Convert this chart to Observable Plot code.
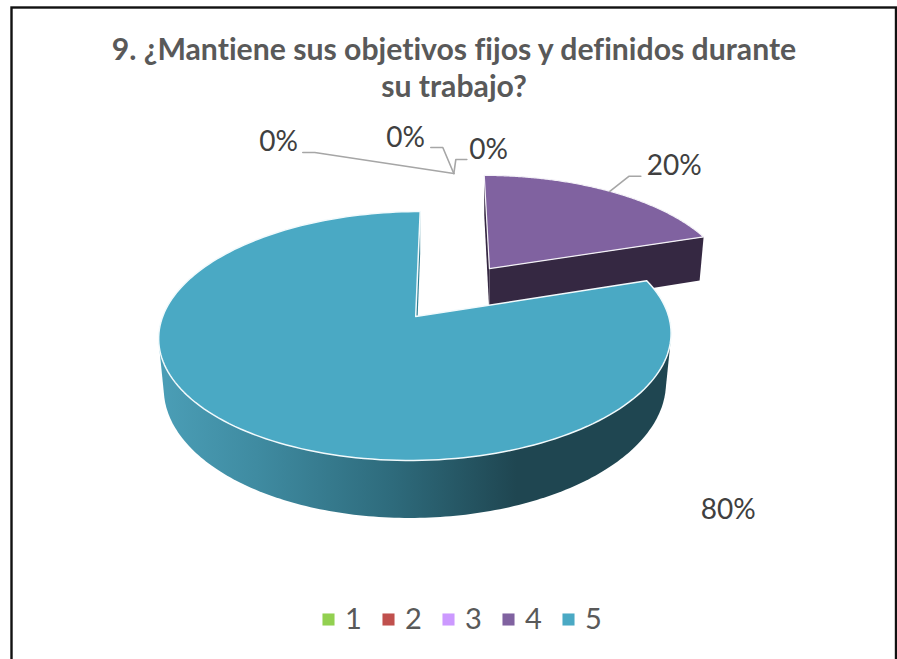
<!DOCTYPE html>
<html lang="es">
<head>
<meta charset="utf-8">
<script src="https://cdn.jsdelivr.net/npm/d3@7"></script>
<script src="https://cdn.jsdelivr.net/npm/@observablehq/plot@0.6"></script>
<style>
html,body{margin:0;padding:0;background:#fff;overflow:hidden}
svg{display:block}
svg text{font-variant-ligatures:none}
</style>
</head>
<body>
<div id="chart"></div>
<script>
// ---- data ----
const categories = ["1", "2", "3", "4", "5"];
const shares = [0, 0, 0, 20, 80];
const titleLines = ["9. ¿Mantiene sus objetivos fijos y definidos durante", "su trabajo?"];

// ---- styles ----
const sliceColors = ["#92D050", "#C0504D", "#CC99FF", "#8062A0", "#4AA9C4"];
const FONT = "Lato, Carlito, 'Open Sans', sans-serif";
const W = 897, H = 659;

// ---- layout of the projected disc (perspective view of a unit circle) ----
const C = {x: 415.2, y: 316, A: 253, B: 121.4, k: 0.1566, depth: 48.5, shrink: 0.98, rot: 0, shear: 5.2};
const explodeShare4 = {u: 0.302, v: 0.421};
const explodeZero = {u: 0.155, v: 0.444};
const rad = d => d * Math.PI / 180;
const project = (u, v, lower = false, shrink = C.shrink) => {
  const w = 1 + C.k * v;
  const s = lower ? shrink : 1;
  return {x: C.x + s * C.A * u / w + C.shear * v / w, y: C.y - C.B * v / w + (lower ? C.depth / w : 0)};
};
const total = d3.sum(shares);
let acc = 0;
const slices = shares.map((s, i) => {
  const a0 = C.rot + acc / total * 360;
  acc += s;
  return {cat: categories[i], value: s, a0, a1: C.rot + acc / total * 360};
});
const rimAt = (deg, off, lower, shrink) => {
  const t = rad(deg);
  return project(Math.sin(t) + off.u, Math.cos(t) + off.v, lower, shrink);
};
const rimPoints = (sl, off, lower) => d3.range(0, 181).map(i => rimAt(sl.a0 + (sl.a1 - sl.a0) * i / 180, off, lower));
const apex = (off, lower, shrink) => project(off.u, off.v, lower, shrink);
const none = {u: 0, v: 0};
const s4 = slices[3], s5 = slices[4];

const topFace = (sl, off) => [apex(off, false), ...rimPoints(sl, off, false)].map(p => ({...p, cat: sl.cat}));
const rim4Top = rimPoints(s4, explodeShare4, false);
const purpleCut = [apex(explodeShare4, false), rim4Top[180], rimAt(s4.a1, explodeShare4, true, 0.986), apex(explodeShare4, true, 1)];
const purpleLeft = [apex(explodeShare4, false), rim4Top[0], rimAt(s4.a0, explodeShare4, true, 1), apex(explodeShare4, true, 1)];
const rim5Top = rimPoints(s5, none, false), rim5Low = rimPoints(s5, none, true);
const tealLeft = [apex(none, false), rim5Top[180], rim5Low[180], apex(none, true)];
// the visible wall is the hull of the front half of both rims, which gives the straight tangent sides
const frontDegrees = d3.range(90, 271, 1);
const tealWall = d3.polygonHull(frontDegrees.flatMap(d => [rimAt(d, none, false), rimAt(d, none, true)]).map(p => [p.x, p.y]))
  .map(([x, y]) => ({x, y}));

// ---- labels, placed relative to the disc centre; leaders start at the rim ----
const zeroAnchor = project(Math.sin(rad(C.rot)) + explodeZero.u, Math.cos(rad(C.rot)) + explodeZero.v);
const at20 = rim4Top[90];
const labels = [
  {i: 0, dx: -137, dy: -174, leader: [zeroAnchor, {x: zeroAnchor.x - 139, y: zeroAnchor.y - 21}, {x: zeroAnchor.x - 151, y: zeroAnchor.y - 21}]},
  {i: 1, dx: -10, dy: -178, leader: [zeroAnchor, {x: zeroAnchor.x - 11, y: zeroAnchor.y - 26}, {x: zeroAnchor.x - 23, y: zeroAnchor.y - 26}]},
  {i: 2, dx: 73, dy: -166, leader: [zeroAnchor, {x: zeroAnchor.x + 2, y: zeroAnchor.y - 14}, {x: zeroAnchor.x + 13, y: zeroAnchor.y - 14}]},
  {i: 3, dx: 258.5, dy: -150, leader: [at20, {x: at20.x + 19, y: at20.y - 15}, {x: at20.x + 31, y: at20.y - 15}]},
  {i: 4, dx: 312.5, dy: 194, leader: []}
].map(l => ({...l, x: C.x + l.dx, y: C.y + l.dy, text: shares[l.i] + "%"}));
const leaderRows = labels.flatMap(l => l.leader.map(p => ({...p, z: l.i})));

// ---- legend, spaced by category index ----
const legendRows = categories.map((c, i) => ({cat: c, x: 328 + i * 60, y: 619}));
const titleRows = titleLines.map((t, i) => ({t, x: 453.5, y: 50 + i * 37}));

const face = (rows, fill, extra = {}) => Plot.line(rows, {x: "x", y: "y", fill, stroke: "none", curve: "linear-closed", ...extra});

const gradientDefs = () => {
  const defs = d3.create("svg:defs");
  const g = defs.append("linearGradient").attr("id", "wall").attr("gradientUnits", "userSpaceOnUse")
    .attr("x1", 166).attr("x2", 666).attr("y1", 0).attr("y2", 0);
  [[0, "#4A9DB5"], [0.18, "#3F8BA1"], [0.45, "#2E6B7C"], [0.7, "#1F4651"], [1, "#1F4651"]]
    .forEach(([o, c]) => g.append("stop").attr("offset", o).attr("stop-color", c));
  return defs.node();
};

const plot = Plot.plot({
  width: W, height: H,
  margin: 0,
  style: {background: "#fff", fontFamily: FONT},
  x: {domain: [0, W], range: [0, W], axis: null},
  y: {domain: [0, H], range: [0, H], axis: null},
  color: {type: "ordinal", domain: categories, range: sliceColors},
  marks: [
    gradientDefs,
    Plot.frame({stroke: "#111", strokeWidth: 2.4, insetLeft: 11, insetTop: 7, insetRight: 1.5, insetBottom: -6}),
    Plot.text(titleRows, {x: "x", y: "y", text: "t", fontSize: 30.2, fontWeight: 700, fill: "#595959", fontFamily: FONT}),

    // exploded 20% slice
    face(purpleLeft, "#352842"),
    face(purpleCut, "#352842"),
    face(topFace(s4, explodeShare4), "cat", {stroke: "#f4f2f7", strokeWidth: 1.2}),

    // main 80% slice
    face(tealWall, "url(#wall)"),
    face(tealLeft, "#2F7F94"),
    face(topFace(s5, none), "cat", {stroke: "#f2fafc", strokeWidth: 1.5}),

    // leaders and value labels
    Plot.line(leaderRows, {x: "x", y: "y", z: "z", stroke: "#A6A6A6", strokeWidth: 1.6}),
    Plot.text(labels, {x: "x", y: "y", text: "text", fontSize: 28, fill: "#404040", fontFamily: FONT}),

    // legend
    Plot.dot(legendRows, {x: "x", y: "y", fill: "cat", symbol: "square", r: 6.8}),
    Plot.text(legendRows, {x: d => d.x + 25, y: "y", text: "cat", fontSize: 29, fill: "#595959", fontFamily: FONT})
  ]
});
document.getElementById("chart").appendChild(plot);
</script>
</body>
</html>
